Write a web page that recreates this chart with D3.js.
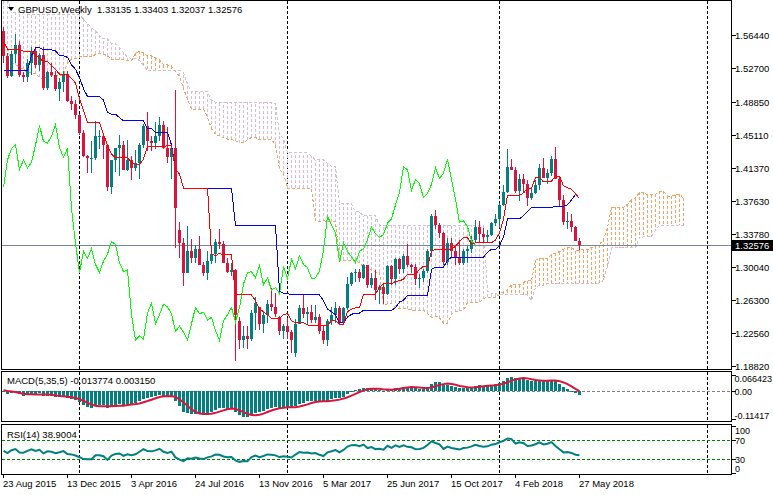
<!DOCTYPE html>
<html>
<head>
<meta charset="utf-8">
<script src="https://cdn.jsdelivr.net/npm/d3@7"></script>
<style>
body { margin: 0; background: #fff; }
svg { display: block; font-family: "Liberation Sans", Arial, sans-serif; font-size: 9.5px; }
.small { font-size: 9px; }
</style>
</head>
<body>
<div id="chart"></div>
<script>
// weekly GBPUSD bars before the visible range (23 Feb 2014 .. 16 Aug 2015), only used to warm up the indicators
var historyBars = [
	[1.6660,1.6750,1.6550,1.6710],[1.6710,1.6820,1.6640,1.6730],[1.6730,1.6760,1.6560,1.6630],[1.6630,1.6660,1.6460,1.6480],
	[1.6480,1.6660,1.6460,1.6630],[1.6630,1.6690,1.6540,1.6580],[1.6580,1.6820,1.6560,1.6740],[1.6740,1.6840,1.6710,1.6800],
	[1.6800,1.6850,1.6740,1.6810],[1.6810,1.6920,1.6790,1.6890],[1.6890,1.7000,1.6810,1.6860],[1.6860,1.6880,1.6730,1.6820],
	[1.6820,1.6920,1.6810,1.6830],[1.6830,1.6850,1.6690,1.6730],[1.6730,1.6810,1.6690,1.6790],[1.6790,1.6990,1.6780,1.6960],
	[1.6960,1.7060,1.6920,1.7010],[1.7010,1.7060,1.6970,1.7020],[1.7020,1.7180,1.7000,1.7150],[1.7150,1.7180,1.7100,1.7110],
	[1.7110,1.7190,1.7060,1.7080],[1.7080,1.7090,1.6950,1.6980],[1.6980,1.6990,1.6800,1.6830],[1.6830,1.6890,1.6750,1.6790],
	[1.6790,1.6820,1.6600,1.6700],[1.6700,1.6720,1.6550,1.6590],[1.6590,1.6640,1.6530,1.6590],[1.6590,1.6640,1.6320,1.6320],
	[1.6180,1.6270,1.6050,1.6250],[1.6250,1.6530,1.6160,1.6300],[1.6300,1.6440,1.6250,1.6290],[1.6290,1.6330,1.6020,1.6050],
	[1.6050,1.6230,1.6020,1.6080],[1.6080,1.6140,1.5875,1.6110],[1.6110,1.6190,1.5990,1.6080],[1.6080,1.6150,1.5940,1.5980],
	[1.5980,1.6040,1.5790,1.5860],[1.5860,1.5920,1.5660,1.5680],[1.5680,1.5730,1.5590,1.5650],[1.5650,1.5820,1.5620,1.5630],
	[1.5630,1.5730,1.5540,1.5600],[1.5600,1.5780,1.5560,1.5710],[1.5710,1.5790,1.5540,1.5650],[1.5650,1.5670,1.5470,1.5550],
	[1.5550,1.5630,1.5480,1.5560],[1.5330,1.5340,1.5030,1.5160],[1.5160,1.5250,1.5030,1.5150],[1.5150,1.5220,1.4950,1.4990],
	[1.4990,1.5270,1.4950,1.5050],[1.5050,1.5350,1.5010,1.5230],[1.5230,1.5450,1.5180,1.5390],[1.5390,1.5490,1.5330,1.5390],
	[1.5390,1.5550,1.5370,1.5430],[1.5430,1.5450,1.5110,1.5120],[1.5120,1.5150,1.4630,1.4730],[1.4730,1.5160,1.4730,1.4950],
	[1.4950,1.4990,1.4780,1.4880],[1.4880,1.4920,1.4650,1.4850],[1.4850,1.4900,1.4570,1.4640],[1.4640,1.5030,1.4570,1.4990],
	[1.4990,1.5200,1.4900,1.5180],[1.5180,1.5500,1.5090,1.5150],[1.5150,1.5520,1.5080,1.5470],[1.5470,1.5770,1.5460,1.5700],
	[1.5700,1.5820,1.5450,1.5490],[1.5490,1.5530,1.5270,1.5280],[1.5280,1.5420,1.5170,1.5310],[1.5310,1.5590,1.5290,1.5570],
	[1.5570,1.5930,1.5520,1.5880],[1.5880,1.5900,1.5700,1.5750],[1.5750,1.5760,1.5540,1.5600],[1.5580,1.5590,1.5330,1.5510],
	[1.5510,1.5670,1.5470,1.5600],[1.5600,1.5640,1.5410,1.5510],[1.5510,1.5670,1.5500,1.5600],[1.5600,1.5630,1.5410,1.5470],
	[1.5470,1.5670,1.5450,1.5640],[1.5640,1.5820,1.5610,1.5700]
];

// visible weekly bars [open, high, low, close], 23 Aug 2015 .. 27 May 2018
var weeklyBars = [
	[1.5700,1.5740,1.5330,1.5410],[1.5410,1.5440,1.5160,1.5180],[1.5180,1.5470,1.5170,1.5430],[1.5430,1.5660,1.5330,1.5540],
	[1.5540,1.5580,1.5170,1.5190],[1.5190,1.5230,1.5110,1.5170],[1.5170,1.5380,1.5110,1.5330],[1.5330,1.5510,1.5200,1.5470],
	[1.5470,1.5510,1.5270,1.5310],[1.5310,1.5450,1.5240,1.5420],[1.5420,1.5510,1.5030,1.5050],[1.5050,1.5240,1.5030,1.5230],
	[1.5230,1.5330,1.5170,1.5190],[1.5190,1.5240,1.5010,1.5040],[1.5040,1.5160,1.4900,1.5110],[1.5110,1.5240,1.5000,1.5210],
	[1.5210,1.5240,1.4890,1.4900],[1.4900,1.4960,1.4800,1.4870],[1.4870,1.4910,1.4700,1.4740],[1.4740,1.4750,1.4510,1.4540],
	[1.4540,1.4570,1.4260,1.4270],[1.4270,1.4290,1.4080,1.4250],[1.4250,1.4440,1.4080,1.4250],[1.4250,1.4670,1.4230,1.4500],
	[1.4500,1.4570,1.4350,1.4500],[1.4500,1.4520,1.4240,1.4400],[1.4400,1.4410,1.3880,1.3920],[1.3920,1.4230,1.3840,1.4230],
	[1.4230,1.4370,1.4090,1.4360],[1.4360,1.4510,1.4050,1.4400],[1.4400,1.4450,1.4110,1.4120],[1.4120,1.4460,1.4100,1.4230],
	[1.4230,1.4280,1.4000,1.4140],[1.4140,1.4340,1.4100,1.4200],[1.4200,1.4420,1.4010,1.4400],[1.4400,1.4640,1.4370,1.4620],
	[1.4620,1.4770,1.4330,1.4440],[1.4440,1.4500,1.4330,1.4420],[1.4420,1.4660,1.4350,1.4500],[1.4500,1.4720,1.4450,1.4630],
	[1.4630,1.4670,1.4350,1.4370],[1.4370,1.4600,1.4200,1.4260],[1.4260,1.4350,1.4010,1.4360],[1.4360,1.5020,1.3230,1.3680],
	[1.3430,1.3530,1.3120,1.3280],[1.3280,1.3340,1.2800,1.2950],[1.2950,1.3480,1.2950,1.3190],[1.3190,1.3330,1.3060,1.3110],
	[1.3110,1.3260,1.3060,1.3220],[1.3220,1.3370,1.3040,1.3040],[1.3040,1.3070,1.2910,1.2950],[1.2950,1.3190,1.2860,1.3080],
	[1.3080,1.3260,1.3050,1.3160],[1.3160,1.3330,1.3060,1.3300],[1.3300,1.3440,1.3220,1.3270],[1.3270,1.3310,1.3060,1.3060],
	[1.3060,1.3120,1.2940,1.2960],[1.2960,1.3060,1.2910,1.2980],[1.2980,1.2990,1.1950,1.2470],[1.2400,1.2440,1.2080,1.2180],
	[1.2180,1.2340,1.2090,1.2230],[1.2230,1.2340,1.2080,1.2190],[1.2190,1.2520,1.2170,1.2490],[1.2490,1.2670,1.2300,1.2600],
	[1.2560,1.2560,1.2300,1.2370],[1.2370,1.2500,1.2260,1.2470],[1.2470,1.2640,1.2380,1.2590],[1.2590,1.2770,1.2510,1.2560],
	[1.2560,1.2720,1.2450,1.2480],[1.2450,1.2460,1.2240,1.2280],[1.2280,1.2360,1.2200,1.2340],[1.2340,1.2430,1.2200,1.2270],
	[1.2270,1.2300,1.2030,1.2180],[1.2030,1.2420,1.1990,1.2370],[1.2370,1.2580,1.2370,1.2550],[1.2550,1.2700,1.2430,1.2480],
	[1.2480,1.2560,1.2350,1.2500],[1.2500,1.2580,1.2380,1.2410],[1.2410,1.2580,1.2380,1.2440],[1.2440,1.2480,1.2250,1.2290],
	[1.2290,1.2340,1.2140,1.2180],[1.2180,1.2420,1.2110,1.2400],[1.2400,1.2560,1.2350,1.2470],[1.2470,1.2620,1.2380,1.2550],
	[1.2550,1.2570,1.2370,1.2390],[1.2390,1.2560,1.2360,1.2550],[1.2550,1.2900,1.2520,1.2820],[1.2820,1.2960,1.2800,1.2950],
	[1.2950,1.2990,1.2840,1.2960],[1.2960,1.2990,1.2840,1.2890],[1.2890,1.3050,1.2880,1.3030],[1.3030,1.3040,1.2770,1.2810],
	[1.2810,1.2940,1.2770,1.2890],[1.2890,1.2980,1.2640,1.2750],[1.2750,1.2810,1.2590,1.2780],[1.2780,1.2810,1.2590,1.2710],
	[1.2710,1.3030,1.2700,1.3020],[1.3020,1.3030,1.2810,1.2880],[1.2880,1.3110,1.2810,1.3100],[1.3100,1.3120,1.2930,1.2990],
	[1.2990,1.3160,1.2940,1.3140],[1.3140,1.3270,1.3010,1.3040],[1.3040,1.3050,1.2950,1.3010],[1.3010,1.3050,1.2810,1.2880],
	[1.2880,1.2930,1.2770,1.2890],[1.2890,1.2990,1.2840,1.2970],[1.2970,1.3220,1.2940,1.3200],[1.3200,1.3620,1.3130,1.3590],
	[1.3590,1.3660,1.3450,1.3490],[1.3490,1.3510,1.3340,1.3400],[1.3400,1.3410,1.3030,1.3070],[1.3070,1.3340,1.3030,1.3290],
	[1.3290,1.3340,1.3120,1.3190],[1.3190,1.3260,1.3030,1.3130],[1.3130,1.3320,1.3030,1.3060],[1.3060,1.3220,1.3030,1.3190],
	[1.3190,1.3250,1.3060,1.3220],[1.3220,1.3360,1.3170,1.3320],[1.3320,1.3550,1.3300,1.3470],[1.3470,1.3540,1.3300,1.3390],
	[1.3390,1.3460,1.3300,1.3350],[1.3350,1.3430,1.3300,1.3380],[1.3380,1.3520,1.3360,1.3510],[1.3510,1.3610,1.3480,1.3560],
	[1.3560,1.3740,1.3460,1.3720],[1.3720,1.3940,1.3710,1.3860],[1.3860,1.4350,1.3850,1.4150],[1.4150,1.4240,1.4110,1.4120],
	[1.4120,1.4150,1.3850,1.3880],[1.3880,1.4070,1.3760,1.4010],[1.4010,1.4070,1.3850,1.3960],[1.3960,1.4000,1.3710,1.3800],
	[1.3800,1.3920,1.3770,1.3850],[1.3850,1.4000,1.3840,1.3950],[1.3950,1.4180,1.3890,1.4140],[1.4140,1.4250,1.4020,1.4020],
	[1.4020,1.4130,1.3960,1.4080],[1.4080,1.4270,1.4050,1.4240],[1.4240,1.4380,1.4010,1.4010],[1.4010,1.4040,1.3710,1.3780],
	[1.3780,1.3830,1.3490,1.3520],[1.3520,1.3640,1.3450,1.3540],[1.3540,1.3610,1.3410,1.3470],[1.3470,1.3480,1.3310,1.3310],
	[1.33135,1.33403,1.32037,1.32576]
];

var dateLabels = ["23 Aug 2015","13 Dec 2015","3 Apr 2016","24 Jul 2016","13 Nov 2016","5 Mar 2017","25 Jun 2017","15 Oct 2017","4 Feb 2018","27 May 2018"];
var dateLabelStep = 16;
var yearSeparators = [19, 71, 124, 176];
var priceTicks = [1.56440,1.52700,1.48850,1.45110,1.41370,1.37630,1.33780,1.30040,1.26300,1.22560,1.18820];
var macdTicks = [0.066423, 0, -0.11417];
var macdTickText = ["0.066423", "0.00", "-0.11417"];
var rsiTicks = [100, 70, 30, 0];
var rsiLevels = [70, 30];

var mainTitle = "GBPUSD,Weekly  1.33135 1.33403 1.32037 1.32576";
var macdTitle = "MACD(5,35,5) -0.013774 0.003150";
var rsiTitle = "RSI(14) 38.9004";

var width = 773, height = 495;
var left = 1.5, right = 731.5;
var bull = "#008080", bear = "#dc143c";

var svg = d3.select("#chart").append("svg")
	.attr("width", width)
	.attr("height", height);

// ---------- indicators ----------
var bars = historyBars.concat(weeklyBars);
var off = historyBars.length;
var closes = bars.map(function(b){ return b[3]; });

function midPrice(end, len){
	var hh = -Infinity, ll = Infinity;
	for (var k = Math.max(0, end - len + 1); k <= end; k++) {
		hh = Math.max(hh, bars[k][1]);
		ll = Math.min(ll, bars[k][2]);
	}
	return (hh + ll) / 2;
}

var tenkan = weeklyBars.map(function(d, i){ return {i: i, v: midPrice(i + off, 9)}; });
var kijun = weeklyBars.map(function(d, i){ return {i: i, v: midPrice(i + off, 26)}; });
var cloud = d3.range(0, weeklyBars.length + 26).map(function(i){
	var k = i - 26 + off;
	return {i: i, a: (midPrice(k, 9) + midPrice(k, 26)) / 2, b: midPrice(k, 52)};
});
var chikou = d3.range(0, weeklyBars.length - 26).map(function(i){
	return {i: i, v: weeklyBars[i + 26][3]};
});

function ema(vals, n){
	var a = 2 / (n + 1), e = vals[0];
	return vals.map(function(v, k){ e = k === 0 ? v : e + a * (v - e); return e; });
}
var e5 = ema(closes, 5), e35 = ema(closes, 35);
var macdAll = closes.map(function(c, k){ return e5[k] - e35[k]; });
var signalAll = macdAll.map(function(m, k){ return k < 4 ? m : d3.mean(macdAll.slice(k - 4, k + 1)); });

var rsiAll = [], ag = 0, al = 0;
for (var k = 1; k < closes.length; k++) {
	var ch = closes[k] - closes[k - 1];
	var g = ch > 0 ? ch : 0, l = ch < 0 ? -ch : 0;
	if (k <= 14) { ag += g / 14; al += l / 14; }
	else { ag = (ag * 13 + g) / 14; al = (al * 13 + l) / 14; }
	rsiAll[k] = al === 0 ? 100 : 100 - 100 / (1 + ag / al);
}

var macd = weeklyBars.map(function(d, i){ return {i: i, m: macdAll[i + off], s: signalAll[i + off]}; });
var rsi = weeklyBars.map(function(d, i){ return {i: i, v: rsiAll[i + off]}; });

// ---------- scales ----------
var x = d3.scaleLinear().domain([0, 176]).range([3.5, 707.5]);
var y = d3.scaleLinear().domain([1.1882, 1.5644]).range([366.5, 35.5]);
var yMacd = d3.scaleLinear().domain([-0.11417, 0.066423]).range([419.5, 375]);
var yRsi = d3.scaleLinear().domain([0, 100]).range([473.5, 426]);

var panels = [[0.5, 369.5], [371.5, 421.5], [424.5, 474.5]];

var defs = svg.append("defs");
panels.forEach(function(p, n){
	defs.append("clipPath").attr("id", "clip" + n)
		.append("rect").attr("x", left + 0.5).attr("y", p[0] + 0.5)
		.attr("width", right - left - 1).attr("height", p[1] - p[0] - 1);
});

// year separators
panels.forEach(function(p){
	svg.append("g").selectAll("line").data(yearSeparators).join("line")
		.attr("x1", function(d){ return x(d); }).attr("x2", function(d){ return x(d); })
		.attr("y1", p[0]).attr("y2", p[1])
		.attr("stroke", "#000").attr("stroke-dasharray", "3,2")
		.attr("shape-rendering", "crispEdges");
});

// ---------- main panel ----------
var main = svg.append("g").attr("clip-path", "url(#clip0)");

main.append("g").selectAll("line").data(cloud).join("line")
	.attr("x1", function(d){ return x(d.i); }).attr("x2", function(d){ return x(d.i); })
	.attr("y1", function(d){ return y(d.a); }).attr("y2", function(d){ return y(d.b); })
	.attr("stroke", function(d){ return d.a > d.b ? "#f4a460" : "#d8bfd8"; })
	.attr("stroke-dasharray", "3,2")
	.attr("shape-rendering", "crispEdges");

main.append("path").datum(cloud)
	.attr("fill", "none").attr("stroke", "#d8bfd8").attr("stroke-dasharray", "3,2")
	.attr("shape-rendering", "crispEdges")
	.attr("d", d3.line().x(function(d){ return x(d.i); }).y(function(d){ return y(d.b); }));
main.append("path").datum(cloud)
	.attr("fill", "none").attr("stroke", "#f4a460").attr("stroke-dasharray", "3,2")
	.attr("shape-rendering", "crispEdges")
	.attr("d", d3.line().x(function(d){ return x(d.i); }).y(function(d){ return y(d.a); }));

var lastClose = weeklyBars[weeklyBars.length - 1][3];
main.append("line")
	.attr("x1", left).attr("x2", right)
	.attr("y1", y(lastClose)).attr("y2", y(lastClose))
	.attr("stroke", "#778899").attr("shape-rendering", "crispEdges");

var candle = main.append("g").selectAll("g").data(weeklyBars).join("g")
	.attr("shape-rendering", "crispEdges");
candle.append("line")
	.attr("x1", function(d, i){ return x(i); }).attr("x2", function(d, i){ return x(i); })
	.attr("y1", function(d){ return y(d[1]); }).attr("y2", function(d){ return y(d[2]); })
	.attr("stroke", function(d){ return d[3] >= d[0] ? bull : bear; });
candle.append("rect")
	.attr("x", function(d, i){ return x(i) - 1.5; })
	.attr("width", 3)
	.attr("y", function(d){ return y(Math.max(d[0], d[3])); })
	.attr("height", function(d){ return Math.max(1, Math.abs(y(d[0]) - y(d[3]))); })
	.attr("fill", function(d){ return d[3] >= d[0] ? bull : bear; });

var line = d3.line().x(function(d){ return x(d.i); }).y(function(d){ return y(d.v); });
[[chikou, "#00ff00"], [kijun, "#0000ff"], [tenkan, "#ff0000"]].forEach(function(s){
	main.append("path").datum(s[0])
		.attr("fill", "none").attr("stroke", s[1]).attr("stroke-width", 1)
		.attr("shape-rendering", "crispEdges")
		.attr("d", line);
});

// ---------- MACD panel ----------
var macdG = svg.append("g").attr("clip-path", "url(#clip1)");
macdG.append("line")
	.attr("x1", left).attr("x2", right).attr("y1", yMacd(0)).attr("y2", yMacd(0))
	.attr("stroke", "#808080").attr("stroke-dasharray", "3,2").attr("shape-rendering", "crispEdges");
macdG.append("g").selectAll("rect").data(macd).join("rect")
	.attr("x", function(d){ return x(d.i) - 1.5; })
	.attr("width", 3)
	.attr("y", function(d){ return Math.min(yMacd(0), yMacd(d.m)); })
	.attr("height", function(d){ return Math.max(1, Math.abs(yMacd(d.m) - yMacd(0))); })
	.attr("fill", bull)
	.attr("shape-rendering", "crispEdges");
macdG.append("path").datum(macd)
	.attr("fill", "none").attr("stroke", bear).attr("stroke-width", 2)
	.attr("d", d3.line().x(function(d){ return x(d.i); }).y(function(d){ return yMacd(d.s); }));

// ---------- RSI panel ----------
var rsiG = svg.append("g").attr("clip-path", "url(#clip2)");
rsiG.selectAll("line").data(rsiLevels).join("line")
	.attr("x1", left).attr("x2", right)
	.attr("y1", function(d){ return yRsi(d); }).attr("y2", function(d){ return yRsi(d); })
	.attr("stroke", "#008000").attr("stroke-dasharray", "3,2").attr("shape-rendering", "crispEdges");
rsiG.append("path").datum(rsi)
	.attr("fill", "none").attr("stroke", bull).attr("stroke-width", 2)
	.attr("d", d3.line().x(function(d){ return x(d.i); }).y(function(d){ return yRsi(d.v); }));

// ---------- frames ----------
panels.forEach(function(p){
	svg.append("rect")
		.attr("x", left).attr("y", p[0])
		.attr("width", right - left).attr("height", p[1] - p[0])
		.attr("fill", "none").attr("stroke", "#000").attr("shape-rendering", "crispEdges");
});

// ---------- right axes ----------
var axisG = svg.append("g").attr("shape-rendering", "crispEdges");
axisG.selectAll(".pt").data(priceTicks).join("line").attr("class", "pt")
	.attr("x1", right).attr("x2", right + 4)
	.attr("y1", function(d){ return y(d); }).attr("y2", function(d){ return y(d); })
	.attr("stroke", "#000");
svg.append("g").selectAll("text").data(priceTicks).join("text")
	.attr("x", 735).attr("y", function(d){ return y(d) + 3.5; })
	.text(function(d){ return d.toFixed(5); });

svg.append("rect")
	.attr("x", 732).attr("y", y(lastClose) - 5.5)
	.attr("width", 41).attr("height", 11)
	.attr("fill", "#000");
svg.append("text")
	.attr("x", 735).attr("y", y(lastClose) + 3.5)
	.attr("fill", "#fff")
	.text(lastClose.toFixed(5));

var macdLabelY = [yMacd(macdTicks[0]) + 7, yMacd(0) + 3.5, yMacd(macdTicks[2]) - 0.5];
axisG.selectAll(".mt").data(macdTicks).join("line").attr("class", "mt")
	.attr("x1", right).attr("x2", right + 4)
	.attr("y1", function(d){ return yMacd(d); }).attr("y2", function(d){ return yMacd(d); })
	.attr("stroke", "#000");
svg.append("g").attr("class", "small").selectAll("text").data(macdTickText).join("text")
	.attr("x", 734.5).attr("y", function(d, n){ return macdLabelY[n]; })
	.text(function(d){ return d; });

var rsiLabelY = [yRsi(100) + 8, yRsi(70) + 3.5, yRsi(30) + 3.5, yRsi(0) - 2];
axisG.selectAll(".rt").data(rsiTicks).join("line").attr("class", "rt")
	.attr("x1", right).attr("x2", right + 4)
	.attr("y1", function(d){ return yRsi(d); }).attr("y2", function(d){ return yRsi(d); })
	.attr("stroke", "#000");
svg.append("g").attr("class", "small").selectAll("text").data(rsiTicks).join("text")
	.attr("x", 735).attr("y", function(d, n){ return rsiLabelY[n]; })
	.text(function(d){ return d; });

// ---------- date axis ----------
axisG.selectAll(".dt").data(dateLabels).join("line").attr("class", "dt")
	.attr("x1", function(d, n){ return x(n * dateLabelStep); }).attr("x2", function(d, n){ return x(n * dateLabelStep); })
	.attr("y1", 474.5).attr("y2", 478)
	.attr("stroke", "#000");
svg.append("g").selectAll("text").data(dateLabels).join("text")
	.attr("x", function(d, n){ return x(n * dateLabelStep) - 0.5; })
	.attr("y", 487)
	.text(function(d){ return d; });

// ---------- titles ----------
svg.append("path").attr("d", "M8,7L14,7L11,11Z").attr("fill", "#000");
svg.append("text").attr("x", 18).attr("y", 13).text(mainTitle).style("white-space", "pre");
svg.append("text").attr("x", 7).attr("y", 383.5).text(macdTitle);
svg.append("text").attr("x", 7).attr("y", 437.5).text(rsiTitle);
</script>
</body>
</html>
